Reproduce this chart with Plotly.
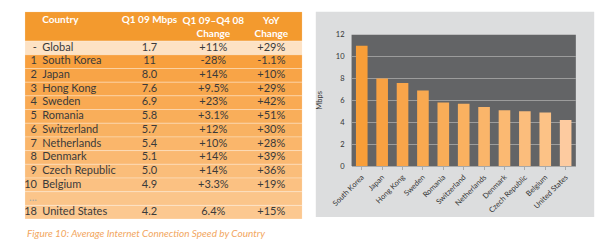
import plotly.graph_objects as go

# ---- data ----
ranks = ["-", "1", "2", "3", "4", "5", "6", "7", "8", "9", "10", "...", "18"]
countries = ["Global", "South Korea", "Japan", "Hong Kong", "Sweden", "Romania", "Switzerland",
             "Netherlands", "Denmark", "Czech Republic", "Belgium", "", "United States"]
mbps = ["1.7", "11", "8.0", "7.6", "6.9", "5.8", "5.7", "5.4", "5.1", "5.0", "4.9", "", "4.2"]
qoq = ["+11%", "-28%", "+14%", "+9.5%", "+23%", "+3.1%", "+12%", "+10%", "+14%", "+14%", "+3.3%", "", "6.4%"]
yoy = ["+29%", "-1.1%", "+10%", "+29%", "+42%", "+51%", "+30%", "+28%", "+39%", "+36%", "+19%", "", "+15%"]
header_single = ["Country", "Q1 09 Mbps"]
header_double = ["Q1 09–Q4 08<br>Change", "YoY<br>Change"]

bar_countries = ["South Korea", "Japan", "Hong Kong", "Sweden", "Romania", "Switzerland",
                 "Netherlands", "Denmark", "Czech Republic", "Belgium", "United States"]
bar_values = [11, 8.0, 7.6, 6.9, 5.8, 5.7, 5.4, 5.1, 5.0, 4.9, 4.2]
y_ticks = [0, 2, 4, 6, 8, 10, 12]
caption = "Figure 10: Average Internet Connection Speed by Country"

# ---- styles / layout constants ----
W, H = 600, 250
FONT = "Lato"
TEXT = "#3A3A3A"
HEADER_FILL = "#F39A2E"
row_fills = ["#FDE2C4", "#F8A03E", "#F8A447", "#F8A74D", "#F9AA53", "#F9AE5A", "#F9B262",
             "#FAB66B", "#FAB972", "#FABD7A", "#FBC182", "#FBC58A", "#FCC890"]
bar_colors = ["#F89E38", "#F8A142", "#F9A54A", "#F9A950", "#F9AD58", "#FAB160",
              "#FAB56A", "#FBB972", "#FBBD7C", "#FCC286", "#FDCBA0"]

TBL_LEFT, TBL_RIGHT, TBL_TOP = 5, 292, 8
HEADER_H, ROW_H = 30.5, 14.2
TBL_W = TBL_RIGHT - TBL_LEFT
TBL_H = HEADER_H + ROW_H * len(ranks)
# column anchors inside the table (px from table left)
RANK_X, NAME_X, C1_X, C2_X, C3_X = 12.5, 18, 129, 195, 255


def px_x(v):
    return v / W


def px_y(v):
    return 1 - v / H


n = len(ranks)
row_centers = [HEADER_H + ROW_H * (i + 0.5) for i in range(n)]
header_center = HEADER_H / 2
header_line1 = 9.5

fig = go.Figure()

# ---- table: fills as horizontal bars on a hidden pixel-like scale ----
fig.add_trace(go.Bar(
    orientation="h",
    y=[header_center] + row_centers,
    x=[TBL_W] * (n + 1),
    base=0,
    width=[HEADER_H] + [ROW_H] * n,
    marker=dict(color=[HEADER_FILL] + row_fills,
                line=dict(color="rgba(255,255,255,0.35)", width=0.8)),
    xaxis="x2", yaxis="y2", showlegend=False, hoverinfo="skip",
))

rank_colors = [TEXT] * n
rank_colors[ranks.index("...")] = "#A8A8A8"
tfont = dict(family=FONT, size=11, color=TEXT)

fig.add_trace(go.Scatter(
    x=[RANK_X] * n, y=row_centers, text=ranks, mode="text",
    textposition="middle left", textfont=dict(family=FONT, size=11, color=rank_colors),
    xaxis="x2", yaxis="y2", showlegend=False, hoverinfo="skip",
))
fig.add_trace(go.Scatter(
    x=[NAME_X] * n, y=row_centers, text=countries, mode="text",
    textposition="middle right", textfont=tfont,
    xaxis="x2", yaxis="y2", showlegend=False, hoverinfo="skip",
))
for cx, col in [(C1_X, mbps), (C2_X, qoq), (C3_X, yoy)]:
    fig.add_trace(go.Scatter(
        x=[cx] * n, y=row_centers, text=col, mode="text",
        textposition="middle center", textfont=tfont,
        xaxis="x2", yaxis="y2", showlegend=False, hoverinfo="skip",
    ))

hfont = dict(family=FONT, size=10, color="white")
fig.add_trace(go.Scatter(
    x=[NAME_X], y=[header_line1], text=["<b>%s</b>" % header_single[0]], mode="text",
    textposition="middle right", textfont=hfont,
    xaxis="x2", yaxis="y2", showlegend=False, hoverinfo="skip",
))
fig.add_trace(go.Scatter(
    x=[C1_X], y=[header_line1], text=["<b>%s</b>" % header_single[1]], mode="text",
    textposition="middle center", textfont=hfont,
    xaxis="x2", yaxis="y2", showlegend=False, hoverinfo="skip",
))
fig.add_trace(go.Scatter(
    x=[C2_X, C3_X], y=[header_center + 1.5] * 2,
    text=["<b>%s</b>" % t for t in header_double], mode="text",
    textposition="middle center", textfont=hfont,
    xaxis="x2", yaxis="y2", showlegend=False, hoverinfo="skip",
))

# ---- bar chart ----
fig.add_trace(go.Bar(
    x=bar_countries, y=bar_values,
    marker=dict(color=bar_colors, line=dict(width=0)),
    xaxis="x", yaxis="y", showlegend=False, hoverinfo="skip",
))

fig.update_layout(
    width=W, height=H,
    margin=dict(l=0, r=0, t=0, b=0),
    paper_bgcolor="white",
    plot_bgcolor="rgba(0,0,0,0)",
    bargap=0.43,
    font=dict(family=FONT, color=TEXT),
    xaxis=dict(
        domain=[px_x(343), px_x(575)],
        tickangle=-45, tickfont=dict(size=7.5, color="#333333"),
        ticks="outside", ticklen=3, tickcolor="#AAAAAA",
        showgrid=False, showline=True, linecolor="#A8A8A8", linewidth=1,
        fixedrange=True,
    ),
    yaxis=dict(
        domain=[px_y(168), px_y(32)],
        range=[0, 12], tickvals=y_ticks,
        tickfont=dict(size=7.5, color="#333333"),
        showgrid=True, gridcolor="#9C9C9C", gridwidth=1,
        zeroline=False, ticks="", ticklabelstandoff=6,
        title=dict(text="Mbps", font=dict(size=7.5, color="#333333"), standoff=12),
        showline=False, fixedrange=True,
    ),
    xaxis2=dict(
        domain=[px_x(TBL_LEFT), px_x(TBL_RIGHT)], range=[0, TBL_W],
        visible=False, fixedrange=True,
    ),
    yaxis2=dict(
        domain=[px_y(TBL_TOP + TBL_H), px_y(TBL_TOP)], range=[TBL_H, 0],
        visible=False, fixedrange=True,
    ),
    shapes=[
        dict(type="rect", xref="paper", yref="paper", layer="below",
             x0=px_x(306), x1=px_x(594), y0=px_y(221), y1=px_y(8),
             fillcolor="#DCDDDE", line=dict(width=0)),
        dict(type="rect", xref="x domain", yref="y domain", layer="below",
             x0=0, x1=1, y0=0, y1=1,
             fillcolor="#636466", line=dict(width=0)),
    ],
    annotations=[
        dict(text="<i>%s</i>" % caption, xref="paper", yref="paper",
             x=px_x(5), y=px_y(238), xanchor="left", yanchor="middle",
             showarrow=False, font=dict(family=FONT, size=10, color="#F2A65E")),
    ],
)

fig.write_html("out.html")
